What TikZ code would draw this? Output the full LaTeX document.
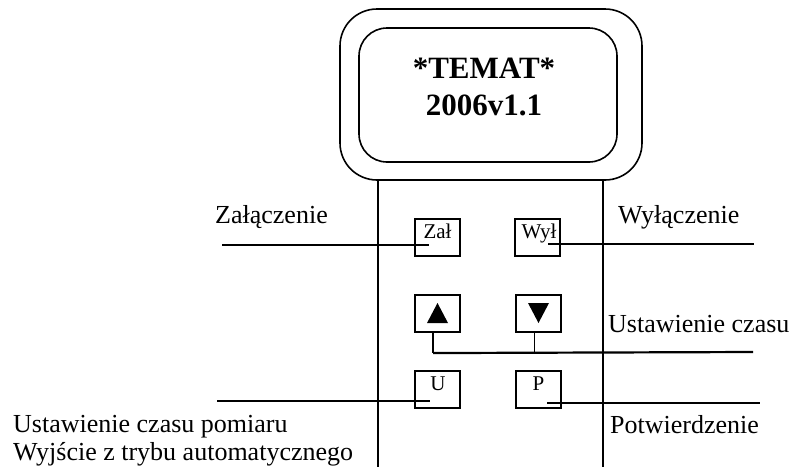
\documentclass[tikz,border=0pt]{standalone}
\usepackage{fontspec}
\setmainfont{Liberation Serif}
\usetikzlibrary{calc}
\tikzset{
  frame/.style={draw, line width=1.6pt, rounded corners=#1},
  btn/.style={draw, line width=1.6pt, minimum width=45pt, minimum height=37.5pt, inner sep=0pt},
  btnlbl/.style={font=\fontsize{21}{24}\selectfont, inner sep=0pt, anchor=base},
  lbl/.style={font=\fontsize{26}{28}\selectfont, inner sep=0pt, anchor=base west, align=left},
  title/.style={font=\fontsize{31}{37}\selectfont\bfseries, inner sep=0pt, anchor=base},
  conn/.style={line width=2.2pt},
  thin/.style={line width=1pt},
  body/.style={line width=1.6pt}
}
\begin{document}
\begin{tikzpicture}[x=1pt,y=-1pt]
\useasboundingbox (0,0) rectangle (806,467);
% display housing
\draw[frame=37pt] (340,9) rectangle (642,180);
\draw[frame=28pt] (359,28) rectangle (617,162);
\node[title] (t1) at (484,78) {*TEMAT*};
\node[title] (t2) at (484,115) {2006v1.1};
% body
\coordinate (bl1) at (378,180);
\coordinate (bl2) at (378,467);
\coordinate (br1) at (603,180);
\coordinate (br2) at (603,467);
\draw[body] (bl1) -- (bl2);
\draw[body] (br1) -- (br2);
% buttons
\node[btn] (zal) at (437.5,237.5) {};
\node[btn] (wyl) at (537.5,237.5) {};
\node[btn] (up) at (437.5,313.5) {};
\node[btn] (down) at (538.5,313.5) {};
\node[btn] (u) at (437.5,389.5) {};
\node[btn] (p) at (538.5,389.5) {};
\node[btnlbl] (zalt) at (437.5,238) {Zał};
\node[btnlbl] (wylt) at (539,238) {Wył};
\node[btnlbl] (ut) at (438,390) {U};
\node[btnlbl] (pt) at (538.5,390) {P};
\fill ($(up.center)+(0,-10.5)$) -- ($(up.center)+(10.5,9.5)$) -- ($(up.center)+(-10.5,9.5)$) -- cycle;
\fill ($(down.center)+(0,9.5)$) -- ($(down.center)+(10.5,-10.5)$) -- ($(down.center)+(-10.5,-10.5)$) -- cycle;
% labels
\node[lbl] (lzal) at (215,223) {Załączenie};
\node[lbl] (lwyl) at (618,223) {Wyłączenie};
\node[lbl] (lczas) at (608,332) {Ustawienie czasu};
\node[lbl] (lpotw) at (610,433) {Potwierdzenie};
\node[lbl] (lu) at (13,460) {Ustawienie czasu pomiaru\\Wyjście z trybu automatycznego};
% connectors
\coordinate (czal) at (222,245);
\draw[conn] (czal) -- ($(zal.center)+(-8.5,7.5)$);
\coordinate (cwyl) at (754,244);
\draw[conn] ($(wyl.center)+(10.5,6.5)$) -- (cwyl);
\coordinate (jup) at ($(up.south)+(-4.5,20)$);
\coordinate (jdown) at ($(down.south)+(-4.5,20)$);
\coordinate (cczas) at (753,352);
\draw[conn] ($(up.south)+(-4.5,0)$) -- (jup);
\draw[thin] ($(down.south)+(-4.5,0)$) -- (jdown);
\draw[conn] (jup) -- (cczas);
\coordinate (cu) at (217,401);
\draw[conn] (cu) -- ($(u.center)+(-7.5,11.5)$);
\coordinate (cp) at (760,403);
\draw[conn] ($(p.center)+(8.5,13.5)$) -- (cp);
\end{tikzpicture}
\end{document}
